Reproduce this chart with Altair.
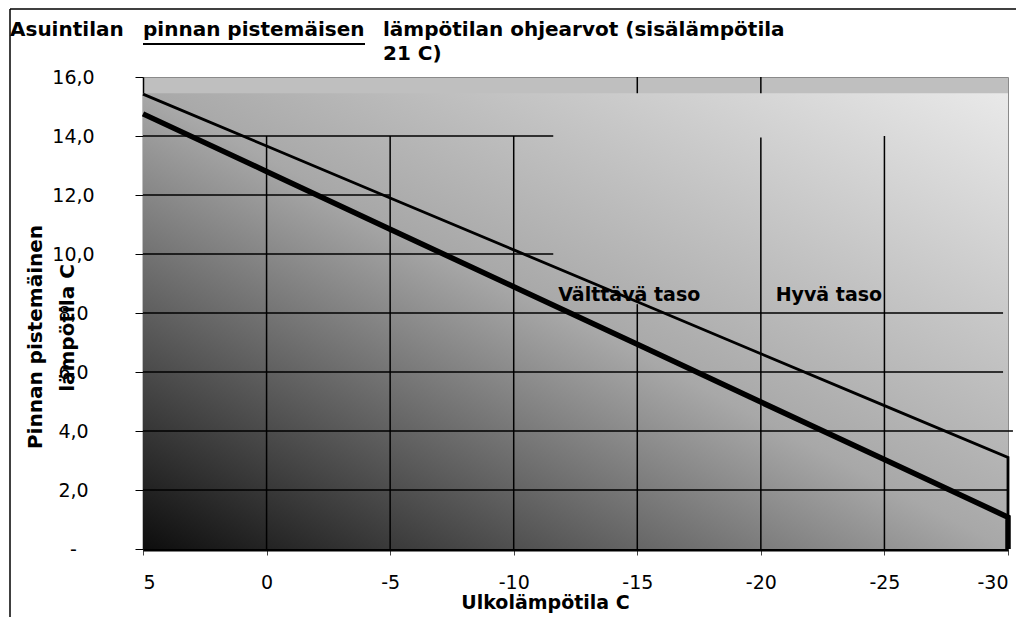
import altair as alt
import pandas as pd

# ---- data ----
outdoor = [5, 0, -5, -10, -15, -20, -25, -30]
good_limit = [15.42, 13.66, 11.90, 10.14, 8.38, 6.62, 4.86, 3.10]      # thin line
adequate_limit = [14.75, 12.80, 10.84, 8.89, 6.94, 4.98, 3.03, 1.08]   # thick line

y_ticks = list(range(0, 17))
shade_top = 15.45

h_grid_y = [14, 12, 10, 8, 6, 4, 2]
h_grid_from = [5, 5, 5, 5, 5, 5, 5]
h_grid_to = [-11.6, -5, -11.6, -29.8, -29.8, -30.2, -30]

v_grid_x = [0, -5, -10, -15, -20, -25, -15, -20]
v_grid_from = [0, 0, 0, 0, 0, 0, 15.45, 15.45]
v_grid_to = [14, 14, 14, 8.3, 13.95, 14, 16, 16]

labels = ["Välttävä taso", "Hyvä taso"]
label_x = [-11.8, -20.6]
label_y = [8.4, 8.4]

FONT = "DejaVu Sans"

# ---- tables ----
thin_df = pd.DataFrame({"x": outdoor + [outdoor[-1]], "y": good_limit + [0], "o": list(range(len(outdoor) + 1))})
thick_df = pd.DataFrame({"x": outdoor + [outdoor[-1]], "y": adequate_limit + [0], "o": list(range(len(outdoor) + 1))})
hgrid_df = pd.DataFrame({"y": h_grid_y, "x": h_grid_from, "x2": h_grid_to})
vgrid_df = pd.DataFrame({"x": v_grid_x, "y": v_grid_from, "y2": v_grid_to})
shade_df = pd.DataFrame({"x": [outdoor[0]], "x2": [outdoor[-1]], "y": [0], "y2": [shade_top]})
lab_df = pd.DataFrame({"x": label_x, "y": label_y, "t": labels})

xs = alt.Scale(domain=[5, -30], nice=False, zero=False)
ys = alt.Scale(domain=[0, 16], nice=False, zero=True)

x_axis = alt.Axis(
    values=outdoor, labelExpr="'' + datum.value", grid=False,
    labelFont=FONT, labelFontSize=19, labelColor="black", labelPadding=18,
    tickSize=6, tickColor="#444444", domainColor="black", domainWidth=4,
    title="Ulkolämpötila C", titleFont=FONT, titleFontSize=19, titleFontWeight="bold",
    titleColor="black", titleX=402, titleY=53, titleBaseline="middle", titleAlign="center",
)
y_axis = alt.Axis(
    values=y_ticks, grid=False, title=None,
    labelExpr="datum.value == 0 ? '-' : (datum.value % 2 == 0 ? replace(format(datum.value, '.1f'), '.', ',') : '')",
    labelFont=FONT, labelFontSize=19, labelColor="black", labelAlign="center",
    labelBaseline="middle", labelPadding=62, tickSize=8, tickColor="black",
    domainColor="black", domainWidth=1.5,
)

gradient = alt.Gradient(
    gradient="linear",
    stops=[
        alt.GradientStop(offset=0, color="#0d0d0d"),
        alt.GradientStop(offset=0.5, color="#a8a8a8"),
        alt.GradientStop(offset=1, color="#e9e9e9"),
    ],
    x1=0, y1=1, x2=1, y2=0,
)

shade = alt.Chart(shade_df).mark_rect(fill=gradient).encode(
    x=alt.X("x:Q", scale=xs, axis=x_axis), x2="x2:Q",
    y=alt.Y("y:Q", scale=ys, axis=y_axis), y2="y2:Q",
)

hgrid = alt.Chart(hgrid_df).mark_rule(color="black", strokeWidth=1.5).encode(
    x=alt.X("x:Q", scale=xs), x2="x2:Q", y=alt.Y("y:Q", scale=ys)
)
vgrid = alt.Chart(vgrid_df).mark_rule(color="black", strokeWidth=1.5).encode(
    x=alt.X("x:Q", scale=xs), y=alt.Y("y:Q", scale=ys), y2="y2:Q"
)

thin = alt.Chart(thin_df).mark_line(color="black", strokeWidth=2.8).encode(
    x=alt.X("x:Q", scale=xs), y=alt.Y("y:Q", scale=ys), order="o:Q"
)
thick = alt.Chart(thick_df).mark_line(color="black", strokeWidth=5.5).encode(
    x=alt.X("x:Q", scale=xs), y=alt.Y("y:Q", scale=ys), order="o:Q"
)

ann = alt.Chart(lab_df).mark_text(
    font=FONT, fontSize=19, fontWeight="bold", color="black", align="left", baseline="alphabetic"
).encode(x=alt.X("x:Q", scale=xs), y=alt.Y("y:Q", scale=ys), text="t:N")

# title pieces (positioned in pixels relative to the plot area)
def txt(s, x, y, angle=None, align="left", size=20):
    kw = dict(font=FONT, fontSize=size, fontWeight="bold", color="black", align=align, baseline="alphabetic")
    if angle is not None:
        kw.update(angle=angle, baseline="middle")
    return alt.Chart(pd.DataFrame({"t": [s]})).mark_text(**kw).encode(
        x=alt.value(x), y=alt.value(y), text="t:N"
    )

title_parts = [
    txt("Asuintilan", -133, -41),
    txt("pinnan pistemäisen", 0, -41),
    txt("lämpötilan ohjearvot (sisälämpötila", 240, -41),
    txt("21 C)", 240, -17),
    txt("Pinnan pistemäinen", -107, 260, angle=270, align="center"),
    txt("lämpötila C", -75, 251, angle=270, align="center"),
]

deco_df = pd.DataFrame({"k": ["u"]})
underline = alt.Chart(deco_df).mark_rule(color="black", strokeWidth=2).encode(
    x=alt.value(0), x2=alt.value(222), y=alt.value(-33)
)
border_top = alt.Chart(deco_df).mark_rule(color="black", strokeWidth=1.5).encode(
    x=alt.value(-133), x2=alt.value(873), y=alt.value(-68)
)
border_left = alt.Chart(deco_df).mark_rule(color="black", strokeWidth=1.5).encode(
    x=alt.value(-133), y=alt.value(-68), y2=alt.value(540)
)

chart = alt.layer(
    shade, hgrid, vgrid, thin, thick, ann, *title_parts, underline, border_top, border_left
).properties(
    width=865, height=472,
    padding={"left": 135, "top": 69, "right": 8, "bottom": 68},
    autosize=alt.AutoSizeParams(type="none"),
).configure_view(fill="#bfbfbf", stroke="#8a8a8a", strokeWidth=1)

chart.save("out.html", embed_options={"renderer": "svg", "actions": False})
